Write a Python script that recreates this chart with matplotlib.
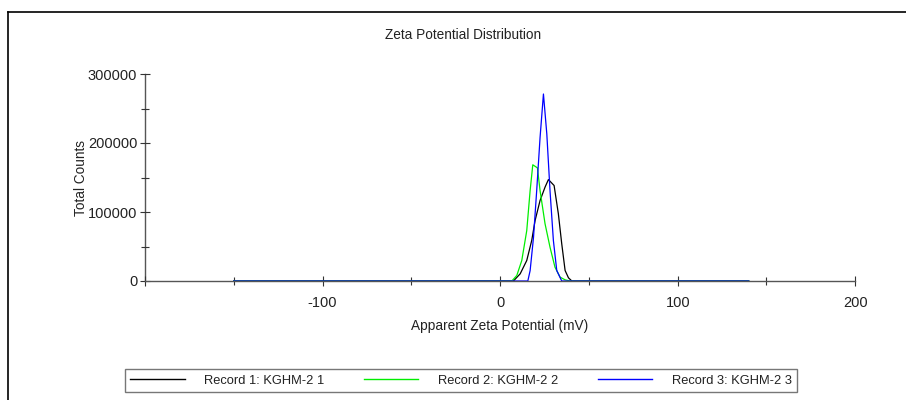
import numpy as np
import matplotlib
matplotlib.use('Agg')
import matplotlib.pyplot as plt
from matplotlib.ticker import MultipleLocator
from matplotlib.lines import Line2D

plt.rcParams['font.family'] = ['Liberation Sans', 'DejaVu Sans']

# Record 1 (black)
x1 = [-150, 7.5, 11.3, 15.0, 17.8, 19.7, 22.5, 25.3, 27.2, 30.4, 32.8, 34.7, 36.6, 38.5, 40.4, 140]
y1 = [0, 0, 10400, 29700, 58700, 87700, 116700, 136000, 147000, 138400, 97400, 54000, 15200, 4600, 0, 0]
# Record 2 (green)
x2 = [-150, 6.6, 9.4, 12.2, 15.0, 16.9, 18.4, 21.0, 22.5, 25.3, 28.1, 30.9, 33.8, 36.6, 39.4, 140]
y2 = [0, 0, 8000, 29700, 73000, 131000, 168400, 164000, 131000, 83000, 49000, 20000, 5500, 1700, 0, 0]
# Record 3 (blue)
x3 = [-150, 15.6, 16.9, 18.8, 20.6, 22.5, 24.4, 26.3, 28.1, 30.0, 31.9, 34.7, 140]
y3 = [0, 0, 15000, 63000, 131000, 208000, 271000, 213000, 131000, 58700, 15200, 0, 0]

labels = ['Record 1: KGHM-2 1', 'Record 2: KGHM-2 2', 'Record 3: KGHM-2 3']
colors = ['#000000', '#00ee00', '#0000ff']

fig = plt.figure(figsize=(9.06, 4.0), dpi=100)
ax = fig.add_axes([0.160, 0.2975, 0.784, 0.5175])

ax.plot(x1, y1, color=colors[0], lw=0.9)
ax.plot(x2, y2, color=colors[1], lw=0.9)
ax.plot(x3, y3, color=colors[2], lw=0.9)

ax.set_xlim(-200, 200)
ax.set_ylim(0, 300000)
ax.xaxis.set_minor_locator(MultipleLocator(50))
ax.yaxis.set_major_locator(MultipleLocator(100000))
ax.yaxis.set_minor_locator(MultipleLocator(50000))
ax.set_xticks([-200, -100, 0, 100, 200])
ax.set_xticklabels(['', '-100', '0', '100', '200'])

for s in ['top', 'right']:
    ax.spines[s].set_visible(False)
for s in ['left', 'bottom']:
    ax.spines[s].set_color('#555555')
    ax.spines[s].set_linewidth(1.0)
ax.spines['left'].set_zorder(0)
ax.tick_params(which='both', direction='inout', color='#333333', labelsize=10.5, labelcolor='#222222')
ax.tick_params(which='major', length=7, width=0.8)
ax.tick_params(which='minor', length=6, width=0.8)
ax.tick_params(axis='x', pad=7)
ax.tick_params(axis='y', pad=2)

fig.text(463 / 906, 1 - 35 / 400, 'Zeta Potential Distribution', fontsize=9.8,
         color='#222222', ha='center', va='center')
ax.set_xlabel('Apparent Zeta Potential (mV)', fontsize=9.8, color='#222222', labelpad=7)
ax.set_ylabel('Total Counts', fontsize=9.8, color='#222222', labelpad=0)

handles = [Line2D([], [], color=c, lw=1.0) for c in colors]
leg = fig.legend(handles, labels, ncol=3, loc='center', bbox_to_anchor=(461 / 906, 1 - 380.5 / 400),
                 fontsize=9.3, frameon=True, fancybox=False, handlelength=4.2,
                 columnspacing=3.1, handletextpad=1.5, borderpad=0.4, borderaxespad=0)
leg.get_frame().set_edgecolor('#555555')
leg.get_frame().set_linewidth(1.0)
for t in leg.get_texts():
    t.set_color('#222222')

# outer frame lines (top and left)
fig.add_artist(Line2D([8 / 906, 1.0], [1 - 11.5 / 400] * 2, color='black', lw=1.2, transform=fig.transFigure))
fig.add_artist(Line2D([8 / 906] * 2, [0, 1 - 11.5 / 400], color='black', lw=1.2, transform=fig.transFigure))

fig.savefig('out.png', dpi=100)
